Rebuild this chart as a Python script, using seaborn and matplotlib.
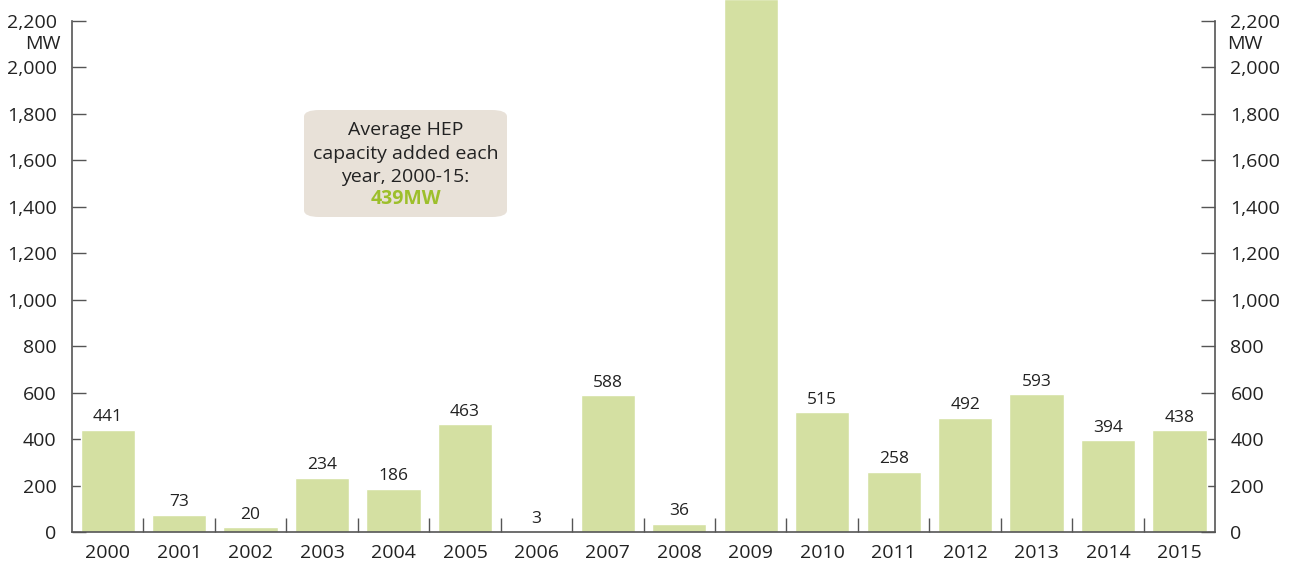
import pandas as pd
import matplotlib.pyplot as plt
import seaborn as sns
from matplotlib.patches import FancyBboxPatch

# Data
years = ['2000', '2001', '2002', '2003', '2004', '2005', '2006', '2007',
         '2008', '2009', '2010', '2011', '2012', '2013', '2014', '2015']
capacity_mw = [441, 73, 20, 234, 186, 463, 3, 588, 36, 2295, 515, 258, 492, 593, 394, 438]
shown_labels = ['441', '73', '20', '234', '186', '463', '3', '588', '36', '',
                '515', '258', '492', '593', '394', '438']
y_ticks = [0, 200, 400, 600, 800, 1000, 1200, 1400, 1600, 1800, 2000, 2200]

df = pd.DataFrame({'Year': years, 'MW': capacity_mw})

sns.set_style('white')
plt.rcParams['font.family'] = ['Open Sans', 'DejaVu Sans']

bar_color = '#d4e0a2'
axis_color = '#555555'
text_color = '#222222'

fig = plt.figure(figsize=(12.9, 5.61), dpi=100)
ax = fig.add_axes([0.0558, 0.0517, 0.8862, 0.9483])

sns.barplot(data=df, x='Year', y='MW', color=bar_color, width=0.76,
            saturation=1, ax=ax)

ax.set_xlim(-0.5, len(years) - 0.5)
ax.set_ylim(0, 2290)
ax.set_xlabel('')
ax.set_ylabel('')

# value labels
for i, (v, lab) in enumerate(zip(capacity_mw, shown_labels)):
    if lab:
        ax.text(i, v + 20, lab, ha='center', va='bottom', fontsize=12.5, color=text_color)

# spines
ax.spines['top'].set_visible(False)
for side in ['left', 'right', 'bottom']:
    ax.spines[side].set_visible(True)
    ax.spines[side].set_color(axis_color)
    ax.spines[side].set_linewidth(1.2)
ax.spines['left'].set_bounds(0, 2200)
ax.spines['right'].set_bounds(0, 2200)

# y ticks on both sides
ax.set_yticks(y_ticks)
ax.set_yticklabels([f'{t:,}' for t in y_ticks])
ax.tick_params(axis='y', which='major', direction='in', length=10, width=1,
               color=axis_color, labelsize=14, labelcolor=text_color,
               left=True, right=True, labelleft=True, labelright=True, pad=11)

# x: labels at centers, ticks at boundaries
ax.set_xticks(range(len(years)))
ax.set_xticklabels(years)
ax.tick_params(axis='x', which='major', length=0, labelsize=14,
               labelcolor=text_color, pad=9)
ax.set_xticks([i + 0.5 for i in range(len(years) - 1)], minor=True)
ax.tick_params(axis='x', which='minor', direction='in', length=10, width=1,
               color=axis_color, bottom=True)

# unit labels
fig.text(0.0558 - 11 / 1290, 1 - 44 / 561, 'MW', ha='right', va='center',
         fontsize=14, color=text_color)
fig.text(0.942 + 12 / 1290, 1 - 44 / 561, 'MW', ha='left', va='center',
         fontsize=14, color=text_color)

# average box
box = FancyBboxPatch((304 / 1290, 1 - 217 / 561), 203 / 1290, 107 / 561,
                     boxstyle='round,pad=0,rounding_size=0.012',
                     transform=fig.transFigure, facecolor='#e8e1d8',
                     edgecolor='none', zorder=5)
fig.patches.append(box)
cx = 405.5 / 1290
for line, y_px in [('Average HEP', 130), ('capacity added each', 154),
                   ('year, 2000-15:', 177)]:
    fig.text(cx, 1 - y_px / 561, line, ha='center', va='center',
             fontsize=14, color=text_color, zorder=6)
fig.text(cx, 1 - 199 / 561, '439MW', ha='center', va='center', fontsize=14,
         fontweight='bold', color='#9dbf2b', zorder=6)

fig.savefig('out.png', dpi=100)
